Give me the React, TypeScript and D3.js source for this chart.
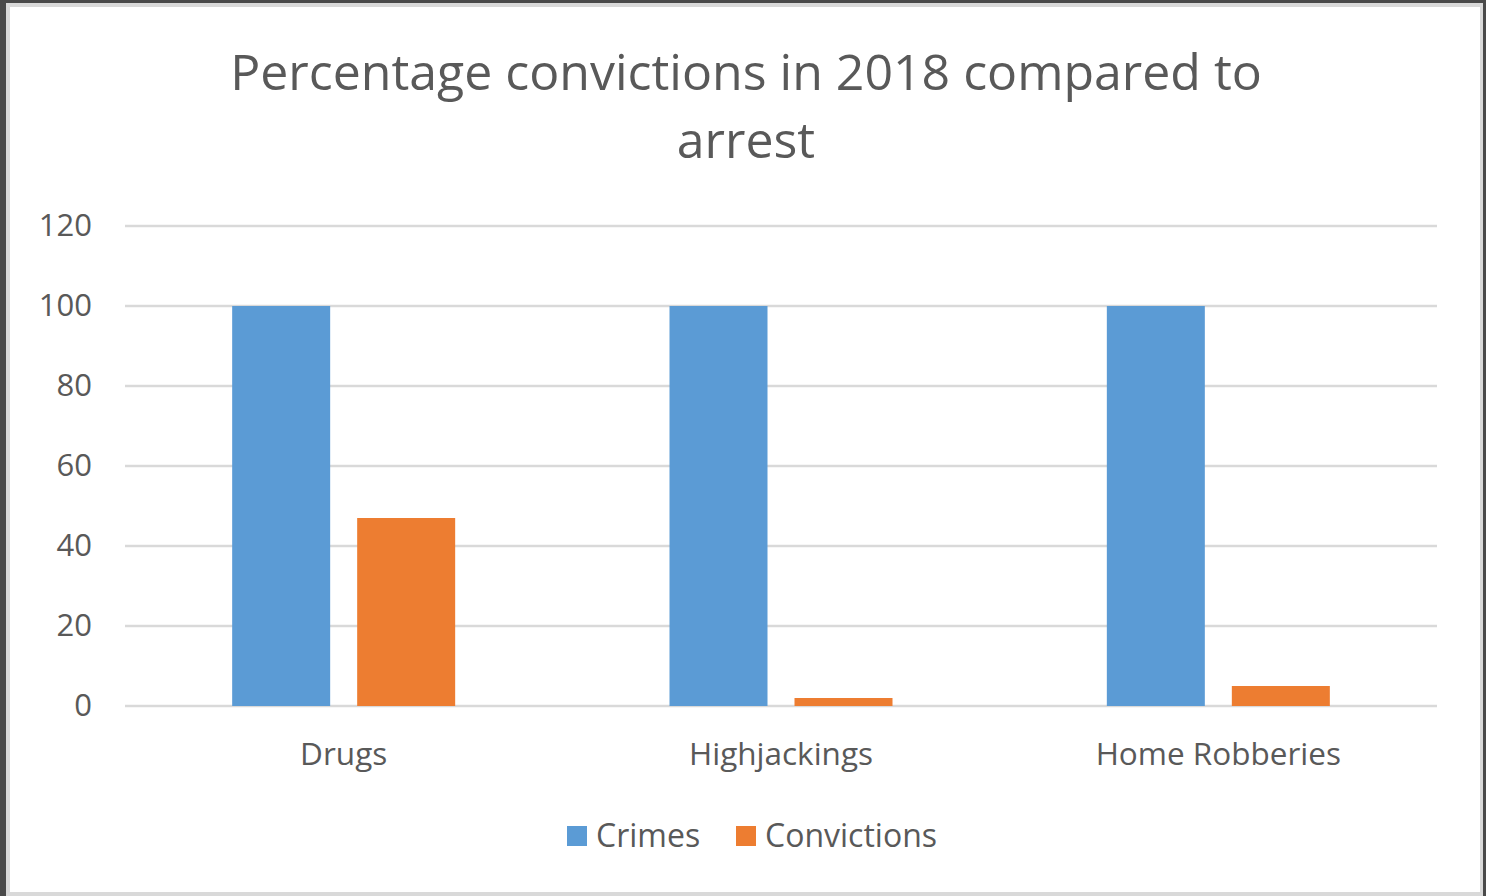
import React from "react";
import * as d3 from "d3";

const categories = ["Drugs", "Highjackings", "Home Robberies"];
const seriesNames = ["Crimes", "Convictions"];
const crimes = [100, 100, 100];
const convictions = [47, 2, 5];
const yTicks = [0, 20, 40, 60, 80, 100, 120];
const titleLines = ["Percentage convictions in 2018 compared to", "arrest"];
const colors = ["#5b9bd5", "#ed7d31"];

const W = 1486;
const H = 896;
const FONT = "'Open Sans', sans-serif";

export default function App() {
  const x0 = d3.scaleBand().domain(categories).range([125, 1437]).paddingInner(0).paddingOuter(0);
  const y = d3.scaleLinear().domain([0, 120]).range([706, 226]);
  const bw = 98;
  const gap = 27;
  const values = [crimes, convictions];

  return (
    <svg width={W} height={H} style={{ position: "fixed", left: 0, top: 0 }} fontFamily={FONT}>
      <rect x={0} y={0} width={W} height={H} fill="#4a4a4a" />
      <rect x={6} y={3} width={1477} height={H - 3} fill="#d9d9d9" />
      <rect x={10} y={7} width={1470} height={885} fill="#ffffff" />
      {titleLines.map((t, i) => (
        <text key={t} x={746} y={90 + i * 68} textAnchor="middle" fontSize={50} fill="#595959">
          {t}
        </text>
      ))}
      {yTicks.map((t) => (
        <g key={t}>
          <line x1={125} x2={1437} y1={y(t)} y2={y(t)} stroke="#d9d9d9" strokeWidth={2.5} />
          <text x={92} y={y(t) + 10} textAnchor="end" fontSize={31} fill="#595959">
            {t}
          </text>
        </g>
      ))}
      {categories.map((c, i) => {
        const cx = (x0(c) as number) + x0.bandwidth() / 2;
        const start = cx - bw - gap / 2;
        return (
          <g key={c}>
            {values.map((vals, s) => (
              <rect
                key={s}
                x={start + s * (bw + gap)}
                y={y(vals[i])}
                width={bw}
                height={y(0) - y(vals[i])}
                fill={colors[s]}
              />
            ))}
            <text x={cx} y={765} textAnchor="middle" fontSize={31.5} fill="#595959">
              {c}
            </text>
          </g>
        );
      })}
      {seriesNames.map((n, i) => {
        const lx = [567, 736][i];
        return (
          <g key={n}>
            <rect x={lx} y={826} width={20} height={20} fill={colors[i]} />
            <text x={lx + 29} y={847} fontSize={32} fill="#595959">
              {n}
            </text>
          </g>
        );
      })}
    </svg>
  );
}
